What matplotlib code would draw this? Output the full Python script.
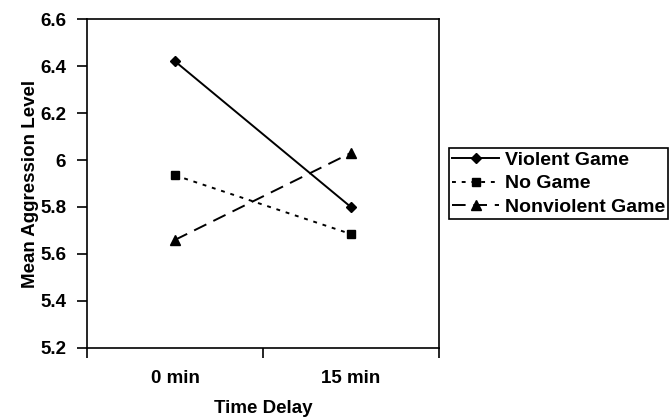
import matplotlib
matplotlib.use("Agg")
import matplotlib.pyplot as plt

plt.rcParams['font.family'] = ['Liberation Sans', 'DejaVu Sans']

categories = ["0 min", "15 min"]
violent = [6.42, 5.80]
no_game = [5.935, 5.685]
nonviolent = [5.66, 6.03]
yticks = [5.2, 5.4, 5.6, 5.8, 6.0, 6.2, 6.4, 6.6]
ytick_labels = ["5.2", "5.4", "5.6", "5.8", "6", "6.2", "6.4", "6.6"]

FS = 13.5
fig = plt.figure(figsize=(6.72, 4.18), dpi=100)
ax = fig.add_axes([0.1295, 0.1675, 0.5235, 0.787])

x = list(range(len(categories)))
ax.plot(x, violent, color='black', lw=1.4, ls='-', marker='D', ms=5, label='Violent Game')
ax.plot(x, no_game, color='black', lw=1.4, ls=(0, (2, 3)), marker='s', ms=6, label='No Game')
ax.plot(x, nonviolent, color='black', lw=1.4, ls=(0, (7, 4)), marker='^', ms=7, label='Nonviolent Game')

ax.set_xlim(-0.5, len(categories) - 0.5)
ax.set_ylim(5.2, 6.6)
ax.set_yticks(yticks)
ax.set_yticklabels(ytick_labels, fontsize=FS, fontweight='bold')
ax.set_xticks([-0.5, 0.5, 1.5])
ax.set_xticklabels([])
ax.set_xticks(x, minor=True)
ax.set_xticklabels(categories, minor=True, fontsize=FS, fontweight='bold')
ax.tick_params(axis='x', which='minor', length=0, pad=16)
ax.tick_params(axis='x', which='major', length=7, width=1.2, direction='out')
ax.tick_params(axis='y', length=7, width=1.2, direction='out', pad=8)
for s in ax.spines.values():
    s.set_linewidth(1.2)
ax.set_ylabel('Mean Aggression Level', fontsize=FS, fontweight='bold', labelpad=1)
ax.set_xlabel('Time Delay', fontsize=FS, fontweight='bold', labelpad=9)

leg = ax.legend(loc='center left', bbox_to_anchor=(1.03, 0.5), frameon=True, fancybox=False,
                edgecolor='black', framealpha=1, handlelength=2.4, handletextpad=0.3,
                borderpad=0.15, labelspacing=0.3, borderaxespad=0,
                prop={'weight': 'bold', 'size': 14})
leg.get_frame().set_linewidth(1.2)

fig.savefig('out.png', dpi=100)
